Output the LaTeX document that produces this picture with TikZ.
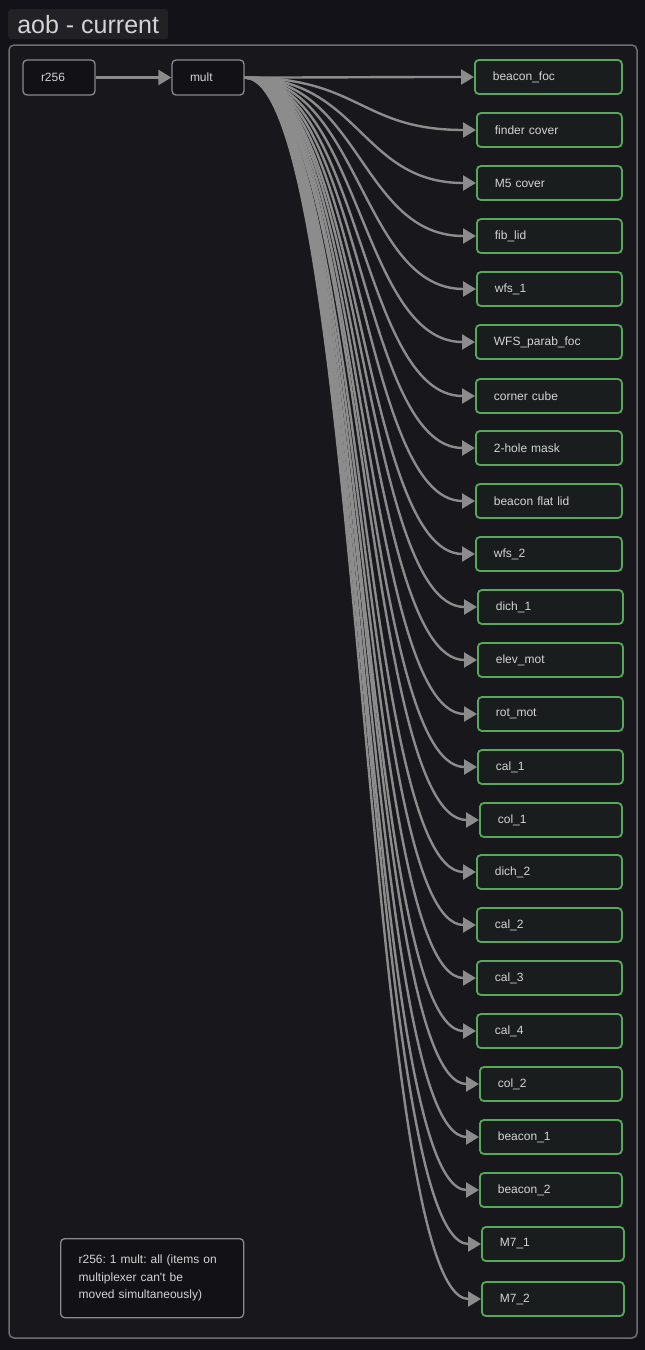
\documentclass[tikz,border=0pt]{standalone}
\usepackage{fontspec}
\setmainfont{Liberation Sans}
\usetikzlibrary{arrows.meta,calc}
\frenchspacing
\definecolor{bgout}{HTML}{121218}
\definecolor{bgin}{HTML}{17171C}
\definecolor{framec}{HTML}{6E6E72}
\definecolor{titlef}{HTML}{212126}
\definecolor{txt}{HTML}{D4D4D4}
\definecolor{greyb}{HTML}{8A8A8E}
\definecolor{darkf}{HTML}{111116}
\definecolor{greenb}{HTML}{56A85A}
\definecolor{greenf}{HTML}{1A1D1D}
\definecolor{edgec}{HTML}{8C8C8C}
\begin{document}
\begin{tikzpicture}[x=1pt,y=-1pt,
  greybox/.style={draw=greyb,line width=1.3pt,fill=darkf,rounded corners=4pt,
    minimum height=35pt,inner xsep=18pt,inner ysep=0pt,text width=36pt,align=left,
    text=txt,font=\fontsize{12}{14}\selectfont},
  gbox/.style={draw=greenb,line width=1.8pt,fill=greenf,rounded corners=4pt,
    minimum height=34pt,inner xsep=18pt,inner ysep=0pt,align=left,text=txt,
    font=\fontsize{12}{14}\selectfont,anchor=west},
  edge/.style={draw=edgec,line width=2.4pt,-{Triangle[length=13pt,width=15pt]}},
  notebox/.style={draw=greyb,line width=1.3pt,fill=darkf,rounded corners=4pt,
    anchor=north west,minimum height=79pt,inner xsep=18pt,inner ysep=0pt,text width=147pt,
    align=left,text=txt,font=\fontsize{12}{17.5}\selectfont},
  titlebox/.style={fill=titlef,rounded corners=3pt,anchor=north west,minimum width=160pt,
    minimum height=30pt,inner xsep=7pt,text=txt,font=\fontsize{25}{28}\selectfont}]
\useasboundingbox (0,0) rectangle (645,1350);
\fill[bgout] (0,0) rectangle (645,1350);
\node[titlebox] (title) at (8,9) {aob - current};
\draw[framec,line width=1.5pt,fill=bgin,rounded corners=5pt] (9,45) rectangle (637,1338);
\node[greybox] (r256) at (59,77.5) {r256};
\node[greybox] (mult) at (208,77.5) {mult};
\foreach \nm/\l/\x/\y/\r in {
  n1/beacon\_foc/474/77/621, n2/finder cover/476/130/621, n3/M5 cover/476/183/621,
  n4/fib\_lid/476/236/621, n5/wfs\_1/476/289/621, n6/WFS\_parab\_foc/475/342/621,
  n7/corner cube/475/396/621, n8/2-hole mask/475/448/621, n9/beacon flat lid/475/501/621,
  n10/wfs\_2/475/554/621, n11/dich\_1/477/607/622, n12/elev\_mot/477/660/622,
  n13/rot\_mot/477/714/622, n14/cal\_1/477/767/622, n15/col\_1/479/820/621,
  n16/dich\_2/476/872/621, n17/cal\_2/476/925/621, n18/cal\_3/476/978/621,
  n19/cal\_4/476/1031/621, n20/col\_2/479/1084/621, n21/beacon\_1/479/1137/621,
  n22/beacon\_2/479/1190/621, n23/M7\_1/481/1244/623, n24/M7\_2/481/1299/623}{
  \pgfmathsetmacro{\w}{\r-\x-36}
  \node[gbox,text width=\w pt] (\nm) at (\x,\y) {\l};
}
\draw[edge] (r256.east) -- (mult.west);
\foreach \tg in {n24,n23,n22,n21,n20,n19,n18,n17,n16,n15,n14,n13,n12,n11,n10,n9,n8,n7,n6,n5,n4,n3,n2,n1}{
  \draw[edge] let \p1=(mult.east), \p2=(\tg.west) in
    (\p1) .. controls ({(\x1+\x2)/2},\y1) and ({(\x1+\x2)/2},\y2) .. (\p2);
}
\node[notebox] (note) at (60,1238) {r256: 1 mult: all (items on\\multiplexer can\textquotesingle t be\\moved simultaneously)};
\end{tikzpicture}
\end{document}
